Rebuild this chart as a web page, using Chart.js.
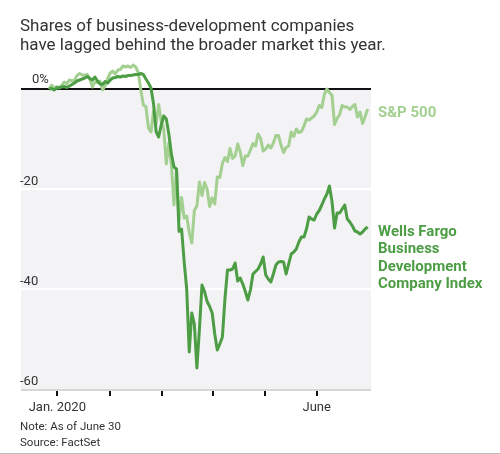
<!DOCTYPE html>
<html>
<head>
<meta charset="utf-8">
<script src="https://cdn.jsdelivr.net/npm/chart.js@4"></script>
<style>
  html, body { margin: 0; padding: 0; background: #fff; }
  #wrap { width: 500px; height: 454px; }
</style>
</head>
<body>
<div id="wrap"><canvas id="bdcChart" width="500" height="454"></canvas></div>
<script>
// trading days, Dec 31 2019 = baseline
const dates = [
  '2019-12-31',
  '2020-01-02','2020-01-03','2020-01-06','2020-01-07','2020-01-08','2020-01-09','2020-01-10',
  '2020-01-13','2020-01-14','2020-01-15','2020-01-16','2020-01-17','2020-01-21','2020-01-22',
  '2020-01-23','2020-01-24','2020-01-27','2020-01-28','2020-01-29','2020-01-30','2020-01-31',
  '2020-02-03','2020-02-04','2020-02-05','2020-02-06','2020-02-07','2020-02-10','2020-02-11',
  '2020-02-12','2020-02-13','2020-02-14','2020-02-18','2020-02-19','2020-02-20','2020-02-21',
  '2020-02-24','2020-02-25','2020-02-26','2020-02-27','2020-02-28',
  '2020-03-02','2020-03-03','2020-03-04','2020-03-05','2020-03-06','2020-03-09','2020-03-10',
  '2020-03-11','2020-03-12','2020-03-13','2020-03-16','2020-03-17','2020-03-18','2020-03-19',
  '2020-03-20','2020-03-23','2020-03-24','2020-03-25','2020-03-26','2020-03-27','2020-03-30','2020-03-31',
  '2020-04-01','2020-04-02','2020-04-03','2020-04-06','2020-04-07','2020-04-08','2020-04-09',
  '2020-04-13','2020-04-14','2020-04-15','2020-04-16','2020-04-17','2020-04-20','2020-04-21',
  '2020-04-22','2020-04-23','2020-04-24','2020-04-27','2020-04-28','2020-04-29','2020-04-30',
  '2020-05-01','2020-05-04','2020-05-05','2020-05-06','2020-05-07','2020-05-08','2020-05-11',
  '2020-05-12','2020-05-13','2020-05-14','2020-05-15','2020-05-18','2020-05-19','2020-05-20',
  '2020-05-21','2020-05-22','2020-05-26','2020-05-27','2020-05-28','2020-05-29',
  '2020-06-01','2020-06-02','2020-06-03','2020-06-04','2020-06-05','2020-06-08','2020-06-09',
  '2020-06-10','2020-06-11','2020-06-12','2020-06-15','2020-06-16','2020-06-17','2020-06-18',
  '2020-06-19','2020-06-22','2020-06-23','2020-06-24','2020-06-25','2020-06-26','2020-06-29','2020-06-30'
];

// % change since start of year
const sp500 = [
  0,
  0.8, 0.1, 0.5, 0.2, 0.7, 1.4, 1.1, 1.8, 1.6, 1.8, 2.7, 3.1, 2.8, 2.8, 2.9, 2.0, 0.4, 1.4, 1.3, 1.6, -0.2,
  0.6, 2.1, 3.2, 3.6, 3.0, 3.8, 3.9, 4.6, 4.4, 4.6, 4.3, 4.8, 4.4, 3.3, -0.2, -3.2, -3.5, -7.8, -8.6,
  -4.4, -7.0, -3.1, -6.4, -8.0, -15.0, -10.8, -15.2, -23.2, -16.1, -26.1, -21.7, -25.8, -25.4, -28.7, -30.8,
  -24.3, -23.4, -18.6, -21.3, -18.7, -20.0,
  -23.5, -21.8, -23.0, -17.6, -17.7, -14.9, -13.7, -14.5, -11.9, -13.9, -13.4, -11.0, -12.6, -15.3, -13.4,
  -13.4, -12.2, -10.9, -11.4, -9.0, -9.9,
  -12.4, -12.0, -11.2, -11.8, -10.8, -9.3, -9.3, -11.2, -12.7, -11.7, -11.4, -8.6, -9.5, -8.0, -8.7, -8.5,
  -7.4, -6.0, -6.2, -5.8,
  -5.4, -4.6, -3.3, -3.7, -1.1, 0.0, -0.7, -1.3, -7.1, -5.9, -5.1, -3.3, -3.6, -3.6, -4.1, -3.5, -3.1,
  -5.6, -4.6, -6.9, -5.5, -4.0
];

const bdcIndex = [
  0,
  0.1, -0.2, 0.2, 0.3, 0.4, 0.5, 0.3, 0.6, 0.9, 1.2, 1.6, 1.8, 2.0, 2.2, 2.5, 2.1, 1.8, 2.4, 1.6, 1.0, 0.9,
  1.5, 1.2, 1.8, 2.2, 2.3, 2.5, 2.4, 2.6, 2.5, 2.7, 2.7, 2.8, 2.9, 2.9, 3.1, 2.9, 2.0, 1.2, 0.2,
  -3.0, -8.5, -9.6, -7.2, -5.4, -6.0, -9.0, -13.0, -15.6, -16.0, -28.5, -28.0, -34.5, -40.0, -52.6, -44.8,
  -47.0, -55.8, -48.0, -39.2, -40.5, -42.5,
  -43.5, -44.8, -49.0, -52.2, -51.0, -49.6, -42.0, -36.2, -36.2, -36.0, -34.8, -38.4, -37.8, -39.0, -40.5,
  -42.2, -40.2, -37.0, -36.5, -36.0, -35.0,
  -33.6, -37.2, -38.0, -38.6, -37.0, -35.2, -34.6, -34.5, -34.6, -37.0, -35.0, -33.0, -32.6, -32.0, -30.6,
  -29.6, -29.6, -28.0, -25.6, -26.0,
  -26.2, -25.0, -24.3, -23.2, -22.0, -21.0, -19.4, -22.5, -27.8, -24.8, -24.8, -24.0, -23.2, -26.0, -26.6,
  -27.4, -28.4, -28.6, -29.0, -28.6, -28.0, -27.6
];

const yTickValues = [0, -20, -40, -60];
const yTickLabels = ['0%', '-20', '-40', '-60'];
const xTickValues = [3.25, 23.9, 44.2, 64.2, 84.7, 105];   // trading-day position of month ticks
const xTickLabels = ['Jan. 2020', '', '', '', '', 'June'];

const spLabel = ['S&P 500'];
const bdcLabel = ['Wells Fargo', 'Business', 'Development', 'Company Index'];
const titleLines = ['Shares of business-development companies', 'have lagged behind the broader market this year.'];
const noteLines = ['Note: As of June 30', 'Source: FactSet'];

const LIGHT = '#a3d091';
const DARK = '#4d9d45';
const TEXT = '#333333';

const decor = {
  id: 'decor',
  beforeDatasetsDraw(chart) {
    const { ctx, chartArea: a, scales: { x, y } } = chart;
    const y0 = y.getPixelForValue(0);
    ctx.save();
    ctx.fillStyle = '#f3f2f5';
    ctx.fillRect(a.left, y0, a.right - a.left, a.bottom - y0);
    // gridlines
    ctx.strokeStyle = '#ffffff';
    ctx.lineWidth = 2;
    yTickValues.slice(1, -1).forEach(v => {
      const py = Math.round(y.getPixelForValue(v));
      ctx.beginPath(); ctx.moveTo(a.left, py); ctx.lineTo(a.right, py); ctx.stroke();
    });
    // bottom axis
    ctx.strokeStyle = '#d6d6d6';
    ctx.beginPath(); ctx.moveTo(a.left, a.bottom); ctx.lineTo(a.right, a.bottom); ctx.stroke();
    // zero line
    ctx.strokeStyle = '#111';
    ctx.beginPath(); ctx.moveTo(a.left, y0); ctx.lineTo(a.right, y0); ctx.stroke();
    // x ticks
    ctx.lineWidth = 2;
    xTickValues.forEach(v => {
      const px = Math.round(x.getPixelForValue(v));
      ctx.beginPath(); ctx.moveTo(px, a.bottom + 1); ctx.lineTo(px, a.bottom + 6); ctx.stroke();
    });
    ctx.restore();
  },
  afterDraw(chart) {
    const { ctx, chartArea: a, scales: { x, y } } = chart;
    ctx.save();
    ctx.fillStyle = TEXT;
    ctx.textBaseline = 'alphabetic';

    // title
    ctx.font = '17px Roboto';
    ctx.textAlign = 'left';
    ctx.fillText(titleLines[0], 20, 31);
    ctx.fillText(titleLines[1], 20, 50);

    // y labels
    ctx.font = '13px Roboto';
    yTickValues.forEach((v, i) => {
      const py = y.getPixelForValue(v);
      ctx.fillText(yTickLabels[i], v === 0 ? a.left + 11 : a.left - 1, py - (v === 0 ? 6 : 4));
    });

    // x labels
    ctx.textAlign = 'center';
    xTickValues.forEach((v, i) => {
      if (xTickLabels[i]) ctx.fillText(xTickLabels[i], x.getPixelForValue(v), a.bottom + 21);
    });

    // notes
    ctx.font = '11.5px Roboto';
    ctx.textAlign = 'left';
    ctx.fillText(noteLines[0], 20, 430);
    ctx.fillText(noteLines[1], 20, 446);

    // thin rule along the bottom edge
    ctx.fillStyle = '#bdbdbd';
    ctx.fillRect(0, chart.height - 1, chart.width, 1);

    // series labels
    ctx.font = 'bold 15px Roboto';
    ctx.textBaseline = 'middle';
    const lx = a.right + 7;
    ctx.fillStyle = LIGHT;
    ctx.fillText(spLabel[0], lx, y.getPixelForValue(sp500[sp500.length - 1]) + 4);
    ctx.fillStyle = DARK;
    const by = y.getPixelForValue(bdcIndex[bdcIndex.length - 1]) + 5;
    bdcLabel.forEach((t, i) => ctx.fillText(t, lx, by + i * 17.5));
    ctx.restore();
  }
};

const ctx = document.getElementById('bdcChart').getContext('2d');
new Chart(ctx, {
  type: 'line',
  data: {
    labels: dates,
    datasets: [
      {
        label: 'S&P 500',
        data: sp500.map((v, i) => ({ x: i, y: v })),
        borderColor: LIGHT,
        borderWidth: 3,
        pointRadius: 0,
        tension: 0,
        borderJoinStyle: 'round',
        order: 2
      },
      {
        label: 'Wells Fargo Business Development Company Index',
        data: bdcIndex.map((v, i) => ({ x: i, y: v })),
        borderColor: DARK,
        borderWidth: 3,
        pointRadius: 0,
        tension: 0,
        borderJoinStyle: 'round',
        order: 1
      }
    ]
  },
  options: {
    responsive: false,
    animation: false,
    devicePixelRatio: 1,
    layout: { padding: { left: 21, right: 129, top: 61.5, bottom: 64 } },
    plugins: { legend: { display: false }, tooltip: { enabled: false } },
    scales: {
      x: { type: 'linear', min: -11, max: 126.3, display: false },
      y: { min: -60.2, max: 5.5, display: false }
    }
  },
  plugins: [decor]
});
</script>
</body>
</html>
